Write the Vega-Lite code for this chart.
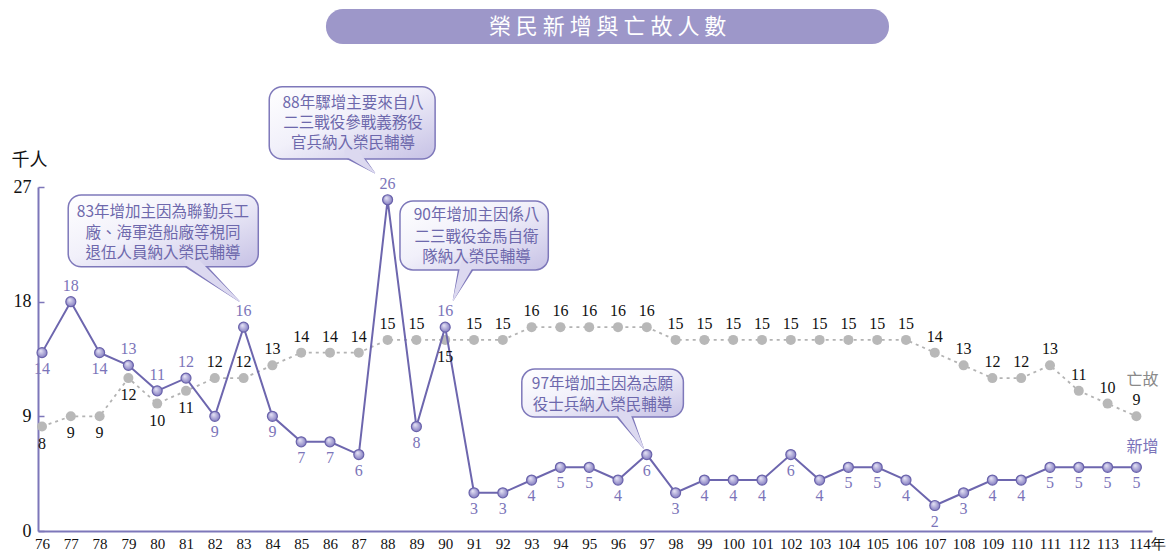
{
  "$schema": "https://vega.github.io/schema/vega-lite/v6.json",
  "width": 1114,
  "height": 344,
  "autosize": {"type": "none"},
  "padding": {"left": 38, "top": 187, "right": 15, "bottom": 22},
  "background": "white",
  "config": {"view": {"stroke": null}, "axis": {"grid": false}, "axisX": {"labelOverlap": false, "labelSeparation": 0}},
  "datasets": {
    "main": [
      {"year": 76, "added": 14, "deceased": 8.2},
      {"year": 77, "added": 18, "deceased": 9},
      {"year": 78, "added": 14, "deceased": 9},
      {"year": 79, "added": 13, "deceased": 12},
      {"year": 80, "added": 11, "deceased": 10},
      {"year": 81, "added": 12, "deceased": 11},
      {"year": 82, "added": 9, "deceased": 12},
      {"year": 83, "added": 16, "deceased": 12},
      {"year": 84, "added": 9, "deceased": 13},
      {"year": 85, "added": 7, "deceased": 14},
      {"year": 86, "added": 7, "deceased": 14},
      {"year": 87, "added": 6, "deceased": 14},
      {"year": 88, "added": 26, "deceased": 15},
      {"year": 89, "added": 8.2, "deceased": 15},
      {"year": 90, "added": 16, "deceased": 15},
      {"year": 91, "added": 3, "deceased": 15},
      {"year": 92, "added": 3, "deceased": 15},
      {"year": 93, "added": 4, "deceased": 16},
      {"year": 94, "added": 5, "deceased": 16},
      {"year": 95, "added": 5, "deceased": 16},
      {"year": 96, "added": 4, "deceased": 16},
      {"year": 97, "added": 6, "deceased": 16},
      {"year": 98, "added": 3, "deceased": 15},
      {"year": 99, "added": 4, "deceased": 15},
      {"year": 100, "added": 4, "deceased": 15},
      {"year": 101, "added": 4, "deceased": 15},
      {"year": 102, "added": 6, "deceased": 15},
      {"year": 103, "added": 4, "deceased": 15},
      {"year": 104, "added": 5, "deceased": 15},
      {"year": 105, "added": 5, "deceased": 15},
      {"year": 106, "added": 4, "deceased": 15},
      {"year": 107, "added": 2, "deceased": 14},
      {"year": 108, "added": 3, "deceased": 13},
      {"year": 109, "added": 4, "deceased": 12},
      {"year": 110, "added": 4, "deceased": 12},
      {"year": 111, "added": 5, "deceased": 13},
      {"year": 112, "added": 5, "deceased": 11},
      {"year": 113, "added": 5, "deceased": 10},
      {"year": 114, "added": 5, "deceased": 9}
    ],
    "boxes": [
      {"id": "title", "year": 85.86, "year2": 105.41, "y1": 40.97, "y2": 38.22},
      {"id": "c83", "year": 76.91, "year2": 83.51, "y1": 26.37, "y2": 20.74},
      {"id": "c88", "year": 83.89, "year2": 89.65, "y1": 34.87, "y2": 29.2},
      {"id": "c90", "year": 88.43, "year2": 93.58, "y1": 25.9, "y2": 20.49},
      {"id": "c97", "year": 92.66, "year2": 98.27, "y1": 12.71, "y2": 8.95}
    ],
    "texts": [
      {"id": "title", "year": 95.64, "y": 39.56, "text": "榮  民  新  增  與  亡  故  人  數"},
      {"id": "c83", "year": 80.2, "y": 25.06, "text": "83年增加主因為聯勤兵工"},
      {"id": "c83", "year": 80.2, "y": 23.41, "text": "廠、海軍造船廠等視同"},
      {"id": "c83", "year": 80.2, "y": 21.8, "text": "退伍人員納入榮民輔導"},
      {"id": "c88", "year": 86.8, "y": 33.62, "text": "88年驟增主要來自八"},
      {"id": "c88", "year": 86.8, "y": 32.05, "text": "二三戰役參戰義務役"},
      {"id": "c88", "year": 86.8, "y": 30.43, "text": "官兵納入榮民輔導"},
      {"id": "c90", "year": 91.09, "y": 24.8, "text": "90年增加主因係八"},
      {"id": "c90", "year": 91.09, "y": 23.05, "text": "二三戰役金馬自衛"},
      {"id": "c90", "year": 91.09, "y": 21.48, "text": "隊納入榮民輔導"},
      {"id": "c97", "year": 95.46, "y": 11.55, "text": "97年增加主因為志願"},
      {"id": "c97", "year": 95.46, "y": 9.88, "text": "役士兵納入榮民輔導"}
    ],
    "tails": [
      {"id": "c83", "end": "base", "year": 81.17, "y": 21.2},
      {"id": "c83", "end": "tip", "year": 82.84, "y": 18.05},
      {"id": "c88", "end": "base", "year": 86.72, "y": 29.75},
      {"id": "c88", "end": "tip", "year": 87.55, "y": 28.1},
      {"id": "c90", "end": "base", "year": 90.77, "y": 20.96},
      {"id": "c90", "end": "tip", "year": 90.28, "y": 18.13},
      {"id": "c97", "end": "base", "year": 96.15, "y": 9.4},
      {"id": "c97", "end": "tip", "year": 96.88, "y": 6.51}
    ]
  },
  "encoding": {
    "x": {
      "field": "year", "type": "quantitative",
      "scale": {"domain": [75.861, 114.542], "nice": false, "zero": false},
      "axis": {
        "title": null,
        "values": [76,77,78,79,80,81,82,83,84,85,86,87,88,89,90,91,92,93,94,95,96,97,98,99,100,101,102,103,104,105,106,107,108,109,110,111,112,113,114],
        "format": "d",
        "ticks": false,
        "domainColor": "#7d77b9",
        "domainWidth": 2,
        "labelFont": "Liberation Serif",
        "labelFontSize": 15,
        "labelColor": "#111111",
        "labelPadding": 5,
        "labelOverlap": false,
        "labelFlush": false,
        "labelAlign": {"condition": {"test": "datum.value == 114", "value": "left"}, "value": "center"},
        "labelOffset": {"condition": {"test": "datum.value == 114", "value": -8}, "value": 0},
        "labelExpr": "datum.value == 114 ? '114年' : datum.label"
      }
    }
  },
  "layer": [
    {
      "data": {"name": "main"},
      "mark": {"type": "line", "color": "#b3b3b3", "strokeWidth": 1.8, "strokeDash": [3, 4]},
      "encoding": {
        "y": {
          "field": "deceased", "type": "quantitative",
          "scale": {"domain": [0, 27], "nice": false, "zero": true},
          "axis": {
            "title": "千人",
            "values": [0, 9, 18, 27],
            "domainColor": "#7d77b9",
            "domainWidth": 2,
            "tickColor": "#7d77b9",
            "tickSize": -6,
            "tickWidth": 1.5,
            "labelFont": "Liberation Serif",
            "labelFontSize": 18,
            "labelColor": "#111111",
            "labelPadding": 13,
            "titleAngle": 0,
            "titleX": -9,
            "titleY": -27,
            "titleAlign": "center",
            "titleBaseline": "middle",
            "titleFont": "Noto Sans CJK TC",
            "titleFontSize": 18,
            "titleFontWeight": "normal",
            "titleColor": "#111111"
          }
        }
      }
    },
    {
      "data": {"name": "main"},
      "mark": {"type": "point", "filled": true, "shape": "circle", "size": 100, "color": "#b8b8b8", "opacity": 1},
      "encoding": {
        "y": {"field": "deceased", "type": "quantitative"}
      }
    },
    {
      "data": {"name": "main"},
      "mark": {"type": "line", "color": "#6d66ae", "strokeWidth": 2},
      "encoding": {
        "y": {"field": "added", "type": "quantitative"}
      }
    },
    {
      "data": {"name": "main"},
      "mark": {
        "type": "point", "filled": true, "shape": "circle", "size": 100, "opacity": 1,
        "fill": {"gradient": "radial", "x1": 0.35, "y1": 0.3, "r1": 0, "x2": 0.5, "y2": 0.5, "r2": 0.55,
                 "stops": [{"offset": 0, "color": "#ebe9f8"}, {"offset": 1, "color": "#7f78be"}]},
        "stroke": "#6a63ab", "strokeWidth": 1.2
      },
      "encoding": {
        "y": {"field": "added", "type": "quantitative"}
      }
    },
    {
      "data": {"name": "main"},
      "transform": [{"filter": "indexof([77,79,80,81,83,88,90], datum.year) >= 0"}],
      "mark": {"type": "text", "font": "Liberation Serif", "fontSize": 16, "color": "#7b74b9", "dy": -16, "baseline": "middle", "align": "center"},
      "encoding": {
        "y": {"field": "added", "type": "quantitative"},
        "text": {"field": "added", "type": "quantitative", "format": ".0f"}
      }
    },
    {
      "data": {"name": "main"},
      "transform": [{"filter": "indexof([77,79,80,81,83,88,90], datum.year) < 0"}],
      "mark": {"type": "text", "font": "Liberation Serif", "fontSize": 16, "color": "#7b74b9", "dy": 16, "baseline": "middle", "align": "center"},
      "encoding": {
        "y": {"field": "added", "type": "quantitative"},
        "text": {"field": "added", "type": "quantitative", "format": ".0f"}
      }
    },
    {
      "data": {"name": "main"},
      "transform": [{"filter": "datum.year <= 81 || datum.year == 90"}],
      "mark": {"type": "text", "font": "Liberation Serif", "fontSize": 16, "color": "#111111", "dy": 17, "baseline": "middle", "align": "center"},
      "encoding": {
        "y": {"field": "deceased", "type": "quantitative"},
        "text": {"field": "deceased", "type": "quantitative", "format": ".0f"}
      }
    },
    {
      "data": {"name": "main"},
      "transform": [{"filter": "datum.year > 81 && datum.year != 90"}],
      "mark": {"type": "text", "font": "Liberation Serif", "fontSize": 16, "color": "#111111", "dy": -16, "baseline": "middle", "align": "center"},
      "encoding": {
        "y": {"field": "deceased", "type": "quantitative"},
        "text": {"field": "deceased", "type": "quantitative", "format": ".0f"}
      }
    },
    {
      "data": {"name": "main"},
      "transform": [{"filter": "datum.year == 114"}],
      "mark": {"type": "text", "font": "Noto Sans CJK TC", "fontSize": 16, "color": "#8a8a8a", "dy": -36, "dx": 6, "baseline": "middle", "align": "center"},
      "encoding": {
        "y": {"field": "deceased", "type": "quantitative"},
        "text": {"value": "亡故"}
      }
    },
    {
      "data": {"name": "main"},
      "transform": [{"filter": "datum.year == 114"}],
      "mark": {"type": "text", "font": "Noto Sans CJK TC", "fontSize": 16, "color": "#7b74b9", "dy": -20, "dx": 6, "baseline": "middle", "align": "center"},
      "encoding": {
        "y": {"field": "added", "type": "quantitative"},
        "text": {"value": "新增"}
      }
    },
    {
      "data": {"name": "boxes"},
      "transform": [{"filter": "datum.id == 'title'"}],
      "mark": {"type": "rect", "color": "#9d97c9", "cornerRadius": 17},
      "encoding": {
        "x2": {"field": "year2"},
        "y": {"field": "y1", "type": "quantitative"},
        "y2": {"field": "y2"}
      }
    },
    {
      "data": {"name": "texts"},
      "transform": [{"filter": "datum.id == 'title'"}],
      "mark": {"type": "text", "font": "Noto Sans CJK TC", "fontSize": 22, "color": "#ffffff", "baseline": "middle", "align": "center"},
      "encoding": {
        "y": {"field": "y", "type": "quantitative"},
        "text": {"field": "text"}
      }
    },
    {
      "data": {"name": "tails"},
      "mark": {"type": "trail", "color": "#7e78ba", "opacity": 1},
      "encoding": {
        "y": {"field": "y", "type": "quantitative"},
        "size": {"condition": {"test": "datum.end == 'base'", "value": 17}, "value": 0},
        "detail": {"field": "id"},
        "order": {"field": "end"}
      }
    },
    {
      "data": {"name": "boxes"},
      "transform": [{"filter": "datum.id != 'title'"}],
      "mark": {
        "type": "rect", "cornerRadius": 13, "stroke": "#7e78ba", "strokeWidth": 1.5,
        "fill": {"gradient": "linear", "x1": 0, "y1": 0, "x2": 1, "y2": 1,
                 "stops": [{"offset": 0, "color": "#ffffff"}, {"offset": 0.45, "color": "#f1f0fa"}, {"offset": 1, "color": "#c6c1e5"}]}
      },
      "encoding": {
        "x2": {"field": "year2"},
        "y": {"field": "y1", "type": "quantitative"},
        "y2": {"field": "y2"}
      }
    },
    {
      "data": {"name": "tails"},
      "mark": {"type": "trail", "color": "#dcd9f0", "opacity": 1},
      "encoding": {
        "y": {"field": "y", "type": "quantitative"},
        "size": {"condition": {"test": "datum.end == 'base'", "value": 13}, "value": 0},
        "detail": {"field": "id"},
        "order": {"field": "end"}
      }
    },
    {
      "data": {"name": "texts"},
      "transform": [{"filter": "datum.id != 'title'"}],
      "mark": {"type": "text", "font": "Noto Sans CJK TC", "fontSize": 15.5, "color": "#6d68ac", "baseline": "middle", "align": "center"},
      "encoding": {
        "y": {"field": "y", "type": "quantitative"},
        "text": {"field": "text"}
      }
    }
  ]
}
